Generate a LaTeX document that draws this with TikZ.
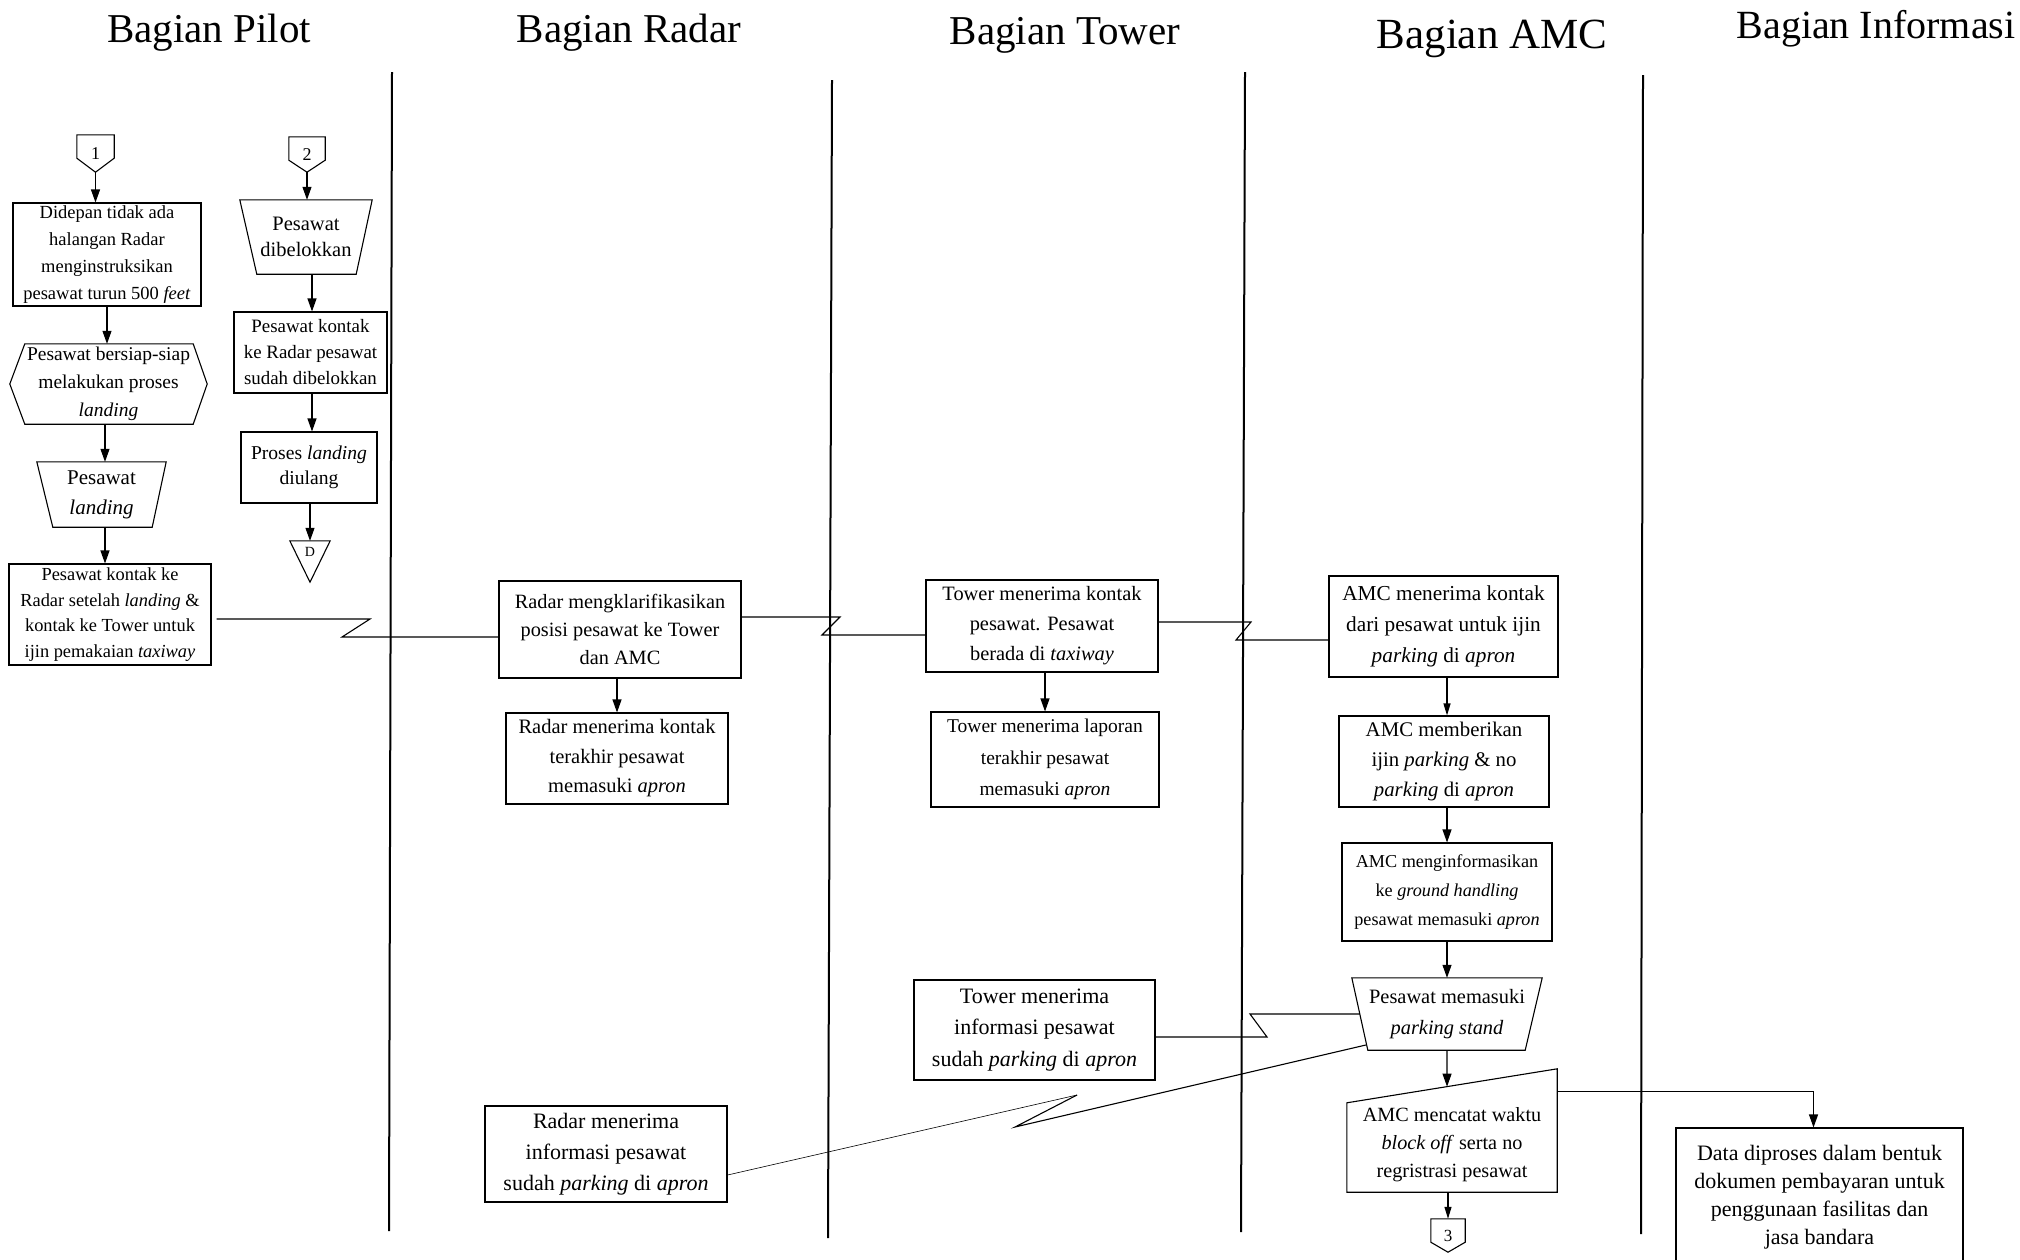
\documentclass[tikz,border=0pt]{standalone}
\usepackage{fontspec}
\setmainfont{Liberation Serif}
\usetikzlibrary{arrows.meta,calc}
\newcommand\myfs[2]{\fontsize{#1}{#2}\selectfont}
\tikzset{
  lane/.style={line width=2pt},
  box/.style={draw, line width=1.1pt, inner sep=0pt, align=center},
  shp/.style={inner sep=0pt, align=center},
  outl/.style={line width=1.1pt, line join=miter},
  arr/.style={line width=1.1pt, -{Triangle[length=13pt,width=9pt]}},
  arrs/.style={line width=1.1pt, -{Triangle[length=12pt,width=7pt]}},
  flow/.style={line width=1.1pt},
  fthin/.style={line width=0.6pt},
  ttl/.style={font=\myfs{41}{45}, anchor=base, inner sep=0pt},
}
\begin{document}
\begin{tikzpicture}[x=1pt,y=-1pt]
\useasboundingbox (0,0) rectangle (2020,1259);
\clip (0,0) rectangle (2020,1259);

% lane headings
\node[ttl] (h1) at (209,42) {Bagian Pilot};
\node[ttl] (h2) at (629,42) {Bagian Radar};
\node[ttl] (h3) at (1065,44) {Bagian Tower};
\node[ttl, font=\myfs{43}{47}] (h4) at (1492,48) {Bagian AMC};
\node[ttl, font=\myfs{40}{44}] (h5) at (1876,38) {Bagian Informasi};

% lane separators
\draw[lane] (392,72) -- (389,1231);
\draw[lane] (832,80) -- (828,1238);
\draw[lane] (1245,72) -- (1241,1232);
\draw[lane] (1643,75) -- (1641,1234);

% ---------- Pilot lane, first flow ----------
\node[shp, minimum width=37pt, minimum height=37pt, font=\myfs{18}{18}] (c1) at (95.5,153.5) {1};
\draw[outl] (c1.north west) -- (c1.north east) -- ([yshift=14pt]c1.south east) -- (c1.south) -- ([yshift=14pt]c1.south west) -- cycle;

\node[box, minimum width=188pt, minimum height=103pt, font=\myfs{18.5}{26.7}] (b1) at (107,254.5)
  {Didepan tidak ada\\halangan Radar\\menginstruksikan\\pesawat turun 500 \textit{feet}};

\node[shp, minimum width=197pt, minimum height=80pt, font=\myfs{19.5}{27.8}] (hex) at (108.5,384)
  {Pesawat bersiap-siap\\melakukan proses\\\textit{landing}};
\draw[outl] (hex.west) -- ([xshift=15pt]hex.north west) -- ([xshift=-14pt]hex.north east) -- (hex.east)
  -- ([xshift=-14pt]hex.south east) -- ([xshift=15pt]hex.south west) -- cycle;

\node[shp, minimum width=129pt, minimum height=65pt, font=\myfs{21}{30}] (trap1) at (101.5,494.5)
  {Pesawat\\\textit{landing}};
\draw[outl] (trap1.north west) -- (trap1.north east) -- ([xshift=-14pt]trap1.south east) -- ([xshift=16pt]trap1.south west) -- cycle;

\node[box, minimum width=202pt, minimum height=101pt, font=\myfs{18.4}{25.5}] (b2) at (110,614.5)
  {Pesawat kontak ke\\Radar setelah \textit{landing} \&\\kontak ke Tower untuk\\ijin pemakaian \textit{taxiway}};

\draw[arr] (c1.south) -- (c1.south |- b1.north);
\draw[arr] (b1.south) -- (b1.south |- hex.north);
\draw[arr] ([xshift=-3.5pt]hex.south) -- ([xshift=-3.5pt]hex.south |- trap1.north);
\draw[arr] ([xshift=3.5pt]trap1.south) -- ([xshift=3.5pt]trap1.south |- b2.north);

% ---------- Pilot lane, second flow ----------
\node[shp, minimum width=36pt, minimum height=35pt, font=\myfs{18}{18}] (c2) at (307,154.5) {2};
\draw[outl] (c2.north west) -- (c2.north east) -- ([yshift=12pt]c2.south east) -- (c2.south) -- ([yshift=12pt]c2.south west) -- cycle;

\node[shp, minimum width=132pt, minimum height=74pt, font=\myfs{20.5}{26.7}] (trap2) at (306,237)
  {Pesawat\\dibelokkan};
\draw[outl] (trap2.north west) -- (trap2.north east) -- ([xshift=-16pt]trap2.south east) -- ([xshift=17pt]trap2.south west) -- cycle;

\node[box, minimum width=153pt, minimum height=81pt, font=\myfs{18.9}{26}] (b3) at (310.5,352.5)
  {Pesawat kontak\\ke Radar pesawat\\sudah dibelokkan};

\node[box, minimum width=136pt, minimum height=71pt, font=\myfs{19.6}{25}] (b4) at (309,467.5)
  {Proses \textit{landing}\\diulang};

\node[shp, minimum width=40pt, minimum height=41pt,
      label={[yshift=9.5pt, font=\myfs{14}{14}, inner sep=0pt]center:D}] (tri) at (310,561.5) {};
\draw[outl] (tri.north west) -- (tri.north east) -- (tri.south) -- cycle;

\draw[arr] (c2.south) -- (c2.south |- trap2.north);
\draw[arr] ([xshift=6pt]trap2.south) -- ([xshift=6pt]trap2.south |- b3.north);
\draw[arr] ([xshift=1.5pt]b3.south) -- ([xshift=1.5pt]b3.south |- b4.north);
\draw[arr] (b4.south -| tri.north) -- (tri.north);

% ---------- Radar lane ----------
\node[box, minimum width=242pt, minimum height=97pt, font=\myfs{20.3}{28.3}] (r1) at (620,629.5)
  {Radar mengklarifikasikan\\posisi pesawat ke Tower\\dan AMC};
\node[box, minimum width=222pt, minimum height=91pt, font=\myfs{20.5}{29.5}] (r2) at (617,758.5)
  {Radar menerima kontak\\terakhir pesawat\\memasuki \textit{apron}};
\node[box, minimum width=242pt, minimum height=96pt, font=\myfs{22}{31}] (r3) at (606,1154)
  {Radar menerima\\informasi pesawat\\sudah \textit{parking} di \textit{apron}};
\draw[arr] (r1.south -| r2.north) -- (r2.north);

% ---------- Tower lane ----------
\node[box, minimum width=232pt, minimum height=92pt, font=\myfs{20.4}{30}] (t1) at (1042,626)
  {Tower menerima kontak\\pesawat. Pesawat\\berada di \textit{taxiway}};
\node[box, minimum width=228pt, minimum height=95pt, font=\myfs{19.5}{31.5}] (t2) at (1045,759.5)
  {Tower menerima laporan\\terakhir pesawat\\memasuki \textit{apron}};
\node[box, minimum width=241pt, minimum height=100pt, font=\myfs{22}{31.7}] (t3) at (1034.5,1030)
  {Tower menerima\\informasi pesawat\\sudah \textit{parking} di \textit{apron}};
\draw[arr] (t1.south -| t2.north) -- (t2.north);

% ---------- AMC lane ----------
\node[box, minimum width=229pt, minimum height=101pt, font=\myfs{21.3}{31}] (a1) at (1443.5,626.5)
  {AMC menerima kontak\\dari pesawat untuk ijin\\\textit{parking} di \textit{apron}};
\node[box, minimum width=210pt, minimum height=91pt, font=\myfs{20.8}{30}] (a2) at (1444,761.5)
  {AMC memberikan\\ijin \textit{parking} \& no\\\textit{parking} di \textit{apron}};
\node[box, minimum width=210pt, minimum height=98pt, font=\myfs{18.2}{29}] (a3) at (1447,892)
  {AMC menginformasikan\\ke \textit{ground handling}\\pesawat memasuki \textit{apron}};

\node[shp, minimum width=190pt, minimum height=72pt, font=\myfs{20.4}{31}] (a4) at (1447,1014)
  {Pesawat memasuki\\\textit{parking stand}};
\draw[outl] (a4.north west) -- (a4.north east) -- ([xshift=-17pt]a4.south east) -- ([xshift=16pt]a4.south west) -- cycle;

\node[shp, minimum width=210pt, minimum height=123pt,
      label={[yshift=-14.5pt, align=center, font=\myfs{20.2}{28}, inner sep=0pt]center:{AMC mencatat waktu\\\textit{block off} serta no\\regristrasi pesawat}}] (a5) at (1452,1130.5) {};
\coordinate (a5tl) at ([yshift=-34pt]a5.north west);
\draw[outl] (a5tl) -- (a5.north east) -- (a5.south east) -- (a5.south west) -- cycle;

\node[shp, minimum width=34pt, minimum height=33pt, font=\myfs{17}{17}] (c3) at (1448,1235.5) {3};
\draw[outl] (c3.north west) -- (c3.north east) -- ([yshift=10pt]c3.south east) -- (c3.south) -- ([yshift=10pt]c3.south west) -- cycle;

\draw[arrs] (a1.south -| a3.north) -- (a2.north -| a3.north);
\draw[arr] (a2.south -| a3.north) -- (a3.north);
\draw[arr] (a3.south) -- (a4.north);
\draw[arr] (a4.south) -- (intersection of a4.south--a4.north and a5tl--a5.north east);
\draw[arrs] (a5.south -| c3.north) -- (c3.north);

% ---------- Informasi lane ----------
\node[box, minimum width=287pt, minimum height=138pt, font=\myfs{22}{28.2}] (i1) at (1819.5,1197)
  {Data diproses dalam bentuk\\dokumen pembayaran untuk\\penggunaan fasilitas dan\\jasa bandara};
\draw[arr] ($(a5.north east)!0.187!(a5.south east)$) -| ([xshift=-6pt]i1.north);

% ---------- communication links ----------
\draw[flow] ([xshift=5pt,yshift=-4.5pt]b2.east) -- (370,619) -- (342,637) -- ([yshift=-7.5pt]r1.west);
\draw[flow] ([yshift=12.5pt]r1.east) -- (840,617) -- (822,635) -- ([yshift=-9pt]t1.west);
\draw[flow] ([yshift=4pt]t1.east) -- (1251,622) -- (1236,640) -- ([yshift=-13.5pt]a1.west);
\draw[flow] ([xshift=8pt]a4.west) -- (1250,1014) -- (1267,1037) -- ([yshift=-7pt]t3.east);
\draw[flow] ([xshift=14pt,yshift=-31pt]a4.west) -- (1015,1127) -- (1077,1095);
\draw[fthin] (1077,1095) -- ([yshift=-21pt]r3.east);
\end{tikzpicture}
\end{document}
